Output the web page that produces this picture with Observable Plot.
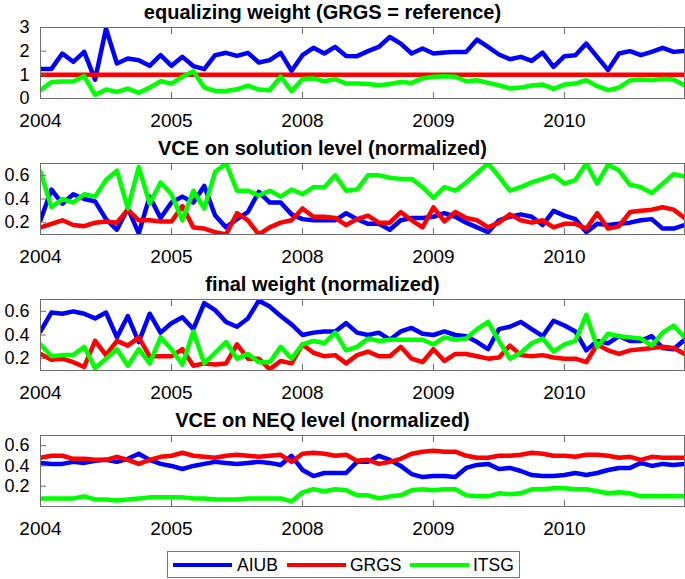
<!DOCTYPE html>
<html><head><meta charset="utf-8">
<script src="https://cdn.jsdelivr.net/npm/d3@7"></script>
<script src="https://cdn.jsdelivr.net/npm/@observablehq/plot@0.6"></script>
<style>
body{margin:0;background:#fff;font-family:"Liberation Sans",Arial,sans-serif;}
#chart{width:685px;}
#chart svg{display:block;}
.legend{position:relative;width:685px;height:35px;}
.lbox{position:absolute;left:167px;top:7px;width:351px;height:25px;border:1px solid #777;background:#fff;}
.sw{position:absolute;top:11px;width:59px;height:4px;}
.lt{position:absolute;top:3px;font-size:17.5px;line-height:20px;color:#000;}
</style></head><body><div id="chart"></div>
<script>
// ---- categories / labels ----
const series = ["AIUB", "GRGS", "ITSG"];
const colors = ["#0000ff", "#ff0000", "#00ff00"];
const months = d3.range(60); // monthly solution index
const xTickPositions = [0, 12, 24, 36, 48];
const xTickLabels = ["2004", "2005", "2008", "2009", "2010"];
const titles = [
  "equalizing weight (GRGS = reference)",
  "VCE on solution level (normalized)",
  "final weight (normalized)",
  "VCE on NEQ level (normalized)"
];
const yDomains = [[0, 3], [0.1, 0.7], [0.1, 0.7], [0, 0.7]];
const yTicks = [[0, 1, 2, 3], [0.2, 0.4, 0.6], [0.2, 0.4, 0.6], [0.2, 0.4, 0.6]];
const yFormats = ["d", ".1f", ".1f", ".1f"];

// ---- panel 1: equalizing weight ----
const eqAIUB = [1.25,1.25,1.9,1.55,1.97,0.8,2.95,1.48,1.69,1.62,1.38,1.83,1.38,1.76,1.37,1.24,1.83,1.93,1.8,1.93,1.52,1.62,1.93,1.17,1.83,2.14,1.9,2.18,1.8,1.79,2.0,2.18,2.6,2.32,1.9,2.11,1.9,1.94,1.97,1.97,2.49,2.18,1.86,1.66,1.76,1.59,1.94,1.34,1.79,1.83,2.32,1.76,1.2,1.9,2.0,1.83,1.97,2.14,1.97,2.01];
const eqGRGS = [1,1,1,1,1,1,1,1,1,1,1,1,1,1,1,1,1,1,1,1,1,1,1,1,1,1,1,1,1,1,1,1,1,1,1,1,1,1,1,1,1,1,1,1,1,1,1,1,1,1,1,1,1,1,1,1,1,1,1,1];
const eqITSG = [0.35,0.7,0.72,0.72,0.94,0.15,0.38,0.28,0.42,0.24,0.46,0.73,0.63,0.92,1.15,0.46,0.32,0.32,0.39,0.54,0.38,0.35,0.92,0.31,0.82,0.85,0.73,0.82,0.63,0.63,0.61,0.56,0.61,0.7,0.66,0.85,0.92,0.94,0.92,0.73,0.77,0.66,0.56,0.42,0.46,0.55,0.59,0.41,0.59,0.63,0.77,0.52,0.35,0.46,0.77,0.8,0.77,0.83,0.8,0.56];

// ---- panel 2: VCE on solution level ----
const solAIUB = [0.22,0.48,0.36,0.44,0.4,0.38,0.23,0.14,0.32,0.11,0.42,0.24,0.37,0.42,0.37,0.51,0.26,0.16,0.23,0.29,0.46,0.37,0.37,0.27,0.23,0.22,0.22,0.22,0.28,0.23,0.19,0.19,0.14,0.22,0.24,0.24,0.25,0.28,0.25,0.2,0.16,0.12,0.22,0.25,0.27,0.25,0.18,0.3,0.26,0.23,0.12,0.19,0.18,0.19,0.2,0.22,0.23,0.15,0.15,0.18];
const solGRGS = [0.16,0.19,0.22,0.18,0.17,0.2,0.21,0.2,0.31,0.22,0.22,0.21,0.21,0.34,0.16,0.15,0.12,0.1,0.28,0.22,0.1,0.16,0.2,0.22,0.32,0.25,0.25,0.24,0.18,0.23,0.26,0.2,0.2,0.29,0.22,0.16,0.33,0.21,0.29,0.24,0.22,0.16,0.2,0.27,0.22,0.2,0.22,0.16,0.19,0.19,0.15,0.28,0.15,0.17,0.29,0.3,0.31,0.33,0.31,0.24];
const solITSG = [0.63,0.33,0.4,0.37,0.44,0.42,0.56,0.64,0.32,0.67,0.36,0.54,0.44,0.22,0.47,0.32,0.63,0.7,0.47,0.47,0.43,0.47,0.42,0.48,0.44,0.5,0.5,0.6,0.47,0.48,0.6,0.6,0.58,0.57,0.57,0.5,0.41,0.5,0.47,0.54,0.62,0.7,0.59,0.47,0.5,0.54,0.57,0.6,0.53,0.56,0.7,0.53,0.69,0.64,0.52,0.5,0.45,0.53,0.61,0.59];

// ---- panel 3: final weight ----
const finAIUB = [0.43,0.59,0.58,0.6,0.58,0.54,0.59,0.38,0.56,0.34,0.58,0.42,0.5,0.55,0.45,0.67,0.61,0.51,0.47,0.54,0.69,0.64,0.56,0.49,0.4,0.42,0.43,0.43,0.5,0.42,0.4,0.42,0.36,0.43,0.46,0.41,0.4,0.43,0.4,0.39,0.34,0.28,0.45,0.47,0.51,0.45,0.39,0.52,0.48,0.43,0.27,0.35,0.33,0.39,0.35,0.35,0.39,0.29,0.28,0.36];
const finGRGS = [0.24,0.19,0.2,0.17,0.13,0.35,0.23,0.35,0.31,0.38,0.22,0.22,0.22,0.28,0.14,0.16,0.15,0.16,0.32,0.2,0.2,0.11,0.18,0.16,0.32,0.25,0.22,0.23,0.16,0.23,0.26,0.22,0.22,0.3,0.2,0.17,0.28,0.18,0.24,0.24,0.22,0.2,0.21,0.31,0.23,0.22,0.23,0.21,0.2,0.2,0.17,0.32,0.27,0.24,0.27,0.28,0.29,0.3,0.29,0.24];
const finITSG = [0.32,0.22,0.23,0.23,0.3,0.12,0.2,0.28,0.14,0.28,0.16,0.38,0.28,0.15,0.43,0.16,0.25,0.34,0.2,0.24,0.17,0.17,0.3,0.2,0.32,0.35,0.33,0.42,0.27,0.3,0.37,0.35,0.36,0.36,0.36,0.36,0.32,0.38,0.36,0.37,0.45,0.51,0.35,0.2,0.25,0.33,0.37,0.26,0.32,0.35,0.57,0.3,0.41,0.39,0.38,0.37,0.31,0.42,0.48,0.38];

// ---- panel 4: VCE on NEQ level ----
const neqAIUB = [0.43,0.42,0.42,0.44,0.43,0.45,0.46,0.44,0.47,0.52,0.46,0.42,0.4,0.37,0.4,0.42,0.44,0.43,0.42,0.43,0.44,0.43,0.41,0.5,0.36,0.3,0.33,0.33,0.33,0.44,0.44,0.5,0.46,0.4,0.32,0.29,0.3,0.3,0.29,0.38,0.41,0.42,0.37,0.38,0.35,0.31,0.3,0.3,0.31,0.33,0.31,0.33,0.36,0.38,0.38,0.43,0.4,0.42,0.41,0.42];
const neqGRGS = [0.48,0.5,0.5,0.47,0.47,0.46,0.46,0.49,0.46,0.42,0.46,0.49,0.5,0.53,0.5,0.49,0.48,0.5,0.51,0.5,0.49,0.5,0.51,0.44,0.52,0.53,0.52,0.5,0.51,0.45,0.46,0.42,0.44,0.47,0.52,0.54,0.55,0.54,0.54,0.5,0.48,0.48,0.5,0.5,0.51,0.53,0.52,0.5,0.5,0.49,0.51,0.51,0.5,0.48,0.49,0.46,0.49,0.48,0.48,0.48];
const neqITSG = [0.08,0.08,0.08,0.08,0.1,0.07,0.07,0.06,0.07,0.08,0.09,0.09,0.09,0.09,0.08,0.08,0.07,0.07,0.07,0.08,0.08,0.08,0.08,0.05,0.14,0.17,0.15,0.17,0.16,0.11,0.11,0.08,0.1,0.11,0.16,0.17,0.16,0.17,0.17,0.11,0.1,0.1,0.13,0.12,0.13,0.17,0.17,0.18,0.18,0.17,0.17,0.15,0.13,0.14,0.13,0.1,0.1,0.1,0.1,0.1];

const panels = [
  [eqAIUB, eqGRGS, eqITSG],
  [solAIUB, solGRGS, solITSG],
  [finAIUB, finGRGS, finITSG],
  [neqAIUB, neqGRGS, neqITSG]
];

const FONT = "'Liberation Sans', Arial, Helvetica, sans-serif";
const root = document.getElementById("chart");

panels.forEach((vals, p) => {
  const rows = series.flatMap((s, k) => vals[k].map((v, j) => ({i: months[j], v, s})));
  const fmt = d => xTickLabels[xTickPositions.indexOf(d)];
  const svg = Plot.plot({
    width: 685, height: 136,
    marginTop: 27, marginBottom: 38, marginLeft: 40, marginRight: 1,
    style: {fontFamily: FONT, fontSize: "18px", color: "#000", background: "#fff", overflow: "visible"},
    x: {domain: [0, 59], label: null},
    y: {domain: yDomains[p], label: null},
    color: {domain: series, range: colors},
    marks: [
      Plot.line(rows, {x: "i", y: "v", z: "s", stroke: "s", strokeWidth: 4.5, strokeLinejoin: "round", clip: true}),
      Plot.frame({stroke: "#6e6e6e", strokeWidth: 1}),
      Plot.axisX({anchor: "bottom", ticks: xTickPositions, tickFormat: fmt, tickSize: -6, tickPadding: 21, stroke: "#6e6e6e", fontSize: 19, label: null}),
      Plot.axisX({anchor: "top", ticks: xTickPositions, tickFormat: () => "", tickSize: -6, stroke: "#6e6e6e", label: null}),
      Plot.axisY({anchor: "left", ticks: yTicks[p], tickFormat: d3.format(yFormats[p]), tickSize: -6, tickPadding: 17, stroke: "#6e6e6e", fontSize: 18, label: null}),
      Plot.text([titles[p]], {frameAnchor: "top", dx: -40, dy: -15, lineAnchor: "middle", fontWeight: "bold", fontSize: 20, fill: "#000"})
    ]
  });
  root.appendChild(svg);
});

// legend
const leg = document.createElement("div");
leg.className = "legend";
const box = document.createElement("div");
box.className = "lbox";
const swX = [5, 119, 242];
const txX = [69, 182, 305];
series.forEach((s, k) => {
  const sw = document.createElement("div");
  sw.className = "sw"; sw.style.left = swX[k] + "px"; sw.style.background = colors[k];
  const t = document.createElement("div");
  t.className = "lt"; t.style.left = txX[k] + "px"; t.textContent = s;
  box.appendChild(sw); box.appendChild(t);
});
leg.appendChild(box);
root.appendChild(leg);
</script>
</body></html>
